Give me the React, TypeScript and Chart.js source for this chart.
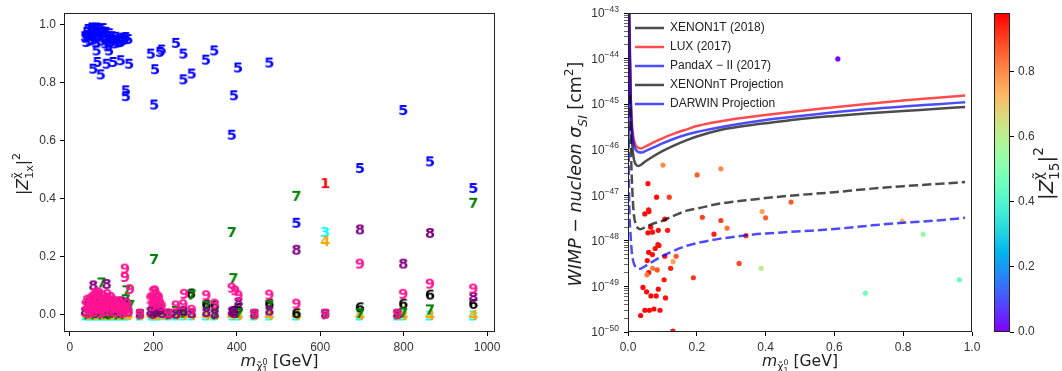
import React, { useEffect, useRef } from "react";
import { Chart, registerables } from "chart.js";
Chart.register(...registerables);

// ---------------- Left panel data: |Z_1x|^2 vs neutralino mass ----------------
const leftMassTicks = [0, 200, 400, 600, 800, 1000];
const leftZTicks = [0, 0.2, 0.4, 0.6, 0.8, 1.0];

const z1Points: [number, number][] = [[612, 0.453]];

const z3Points: [number, number][] = [
  [612, 0.284], [38, -0.004], [47, -0.004], [56, -0.004], [65, -0.004], [74, -0.004], [83, -0.004],
  [92, -0.004], [101, -0.004], [110, -0.004], [119, -0.004], [128, -0.004], [137, -0.004], [168, -0.004],
  [196, -0.004], [204, -0.004], [214, -0.004], [236, -0.004], [254, -0.004], [272, -0.004], [292, -0.004],
  [327, -0.004], [347, -0.004], [390, -0.004], [404, -0.004], [442, -0.004], [478, -0.004], [543, -0.004],
  [695, -0.004], [785, -0.004], [799, -0.004], [863, -0.004], [967, -0.004],
];

const z4Points: [number, number][] = [
  [612, 0.253], [40, -0.002], [49, -0.002], [58, -0.002], [67, -0.002], [76, -0.002], [85, -0.002],
  [94, -0.002], [103, -0.002], [112, -0.002], [121, -0.002], [130, -0.002], [140, -0.002], [168, -0.002],
  [194, -0.002], [201, -0.002], [210, -0.002], [220, -0.002], [236, -0.002], [254, -0.002], [272, -0.002],
  [292, -0.002], [327, -0.002], [347, -0.002], [388, -0.002], [404, -0.002], [442, -0.002], [478, -0.002],
  [543, -0.002], [695, -0.002], [785, -0.002], [799, -0.002], [863, -0.002], [967, -0.002],
];

const z5Points: [number, number][] = [
  [36, 0.96], [38, 0.955], [40, 0.94], [41, 0.975], [44, 0.985], [46, 0.962], [48, 0.945], [50, 0.978],
  [53, 0.99], [55, 0.962], [57, 0.948], [59, 0.985], [61, 0.97], [63, 0.938], [65, 0.99], [67, 0.958],
  [69, 0.975], [71, 0.962], [73, 0.985], [76, 0.945], [78, 0.972], [80, 0.988], [82, 0.955], [85, 0.935],
  [87, 0.975], [89, 0.96], [91, 0.925], [93, 0.945], [95, 0.97], [98, 0.94], [101, 0.96], [104, 0.948],
  [107, 0.935], [110, 0.958], [113, 0.945], [116, 0.938], [119, 0.952], [122, 0.94], [126, 0.955],
  [130, 0.948], [134, 0.957], [140, 0.95],
  [64, 0.911], [94, 0.911], [66, 0.871], [56, 0.848], [74, 0.828], [88, 0.865], [104, 0.871],
  [122, 0.877], [142, 0.865], [134, 0.773], [134, 0.753], [194, 0.9], [204, 0.846], [202, 0.724],
  [216, 0.906], [220, 0.914], [254, 0.937], [272, 0.9], [272, 0.811], [292, 0.831], [326, 0.879],
  [346, 0.911], [403, 0.852], [393, 0.756], [388, 0.62], [478, 0.869], [799, 0.705], [695, 0.505],
  [543, 0.316], [863, 0.528], [967, 0.436],
];

const z6Points: [number, number][] = [
  [290, 0.072], [863, 0.068], [799, 0.037], [967, 0.036], [695, 0.024], [404, 0.022], [327, 0.034],
  [478, 0.037], [347, 0.031], [392, 0.012], [543, 0.004], [272, 0.01], [215, 0.015], [204, 0.008],
  [60, 0.005], [90, 0.003], [120, 0.006],
];

const z7Points: [number, number][] = [
  [543, 0.409], [388, 0.284], [202, 0.191], [967, 0.385], [392, 0.125], [76, 0.11], [136, 0.083],
  [134, 0.052], [145, 0.033], [292, 0.068], [863, 0.017], [799, 0.006], [695, 0.004], [404, 0.005],
  [478, 0.031], [327, 0.03], [198, 0.01], [210, 0.02], [254, 0.012], [272, 0.005], [236, 0.0],
  [168, 0.0], [347, 0.0], [442, 0.0], [612, 0.0], [785, 0.0], [40, 0.0], [48, 0.004], [57, 0.0],
  [66, 0.006], [75, 0.0], [84, 0.003], [95, 0.0], [104, 0.005], [113, 0.0], [122, 0.004], [128, 0.0],
];

const z8Points: [number, number][] = [
  [543, 0.223], [695, 0.293], [863, 0.281], [799, 0.175], [56, 0.1], [88, 0.105], [967, 0.06],
  [168, 0.002], [193, 0.01], [198, 0.002], [204, 0.03], [210, 0.012], [215, 0.02], [220, 0.005],
  [236, 0.002], [254, 0.002], [272, 0.013], [292, 0.004], [327, 0.008], [347, 0.002], [388, 0.01],
  [393, 0.005], [404, 0.042], [442, 0.002], [478, 0.013], [612, 0.002], [785, 0.002],
  [36, 0.01], [42, 0.03], [47, 0.045], [52, 0.02], [58, 0.052], [63, 0.01], [67, 0.04], [72, 0.025],
  [79, 0.05], [84, 0.015], [89, 0.035], [94, 0.045], [100, 0.02], [106, 0.045], [111, 0.015],
  [117, 0.03], [123, 0.045], [129, 0.02], [134, 0.04], [140, 0.01],
];

const z9Points: [number, number][] = [
  [695, 0.175], [863, 0.106], [799, 0.071], [967, 0.089], [543, 0.037], [478, 0.068], [132, 0.158],
  [132, 0.129], [144, 0.087], [327, 0.066], [388, 0.092], [396, 0.083], [404, 0.066], [204, 0.083],
  [274, 0.071], [292, 0.016], [347, 0.037], [254, 0.031], [236, 0.004], [213, 0.06], [200, 0.05],
  [193, 0.054], [198, 0.028], [208, 0.035], [220, 0.03], [168, 0.002], [612, 0.002], [442, 0.002],
  [785, 0.002], [272, 0.035], [196, 0.06], [200, 0.08], [203, 0.045], [207, 0.07], [212, 0.055],
  [216, 0.04],
  [38, 0.035], [40, 0.012], [42, 0.05], [44, 0.02], [46, 0.004], [48, 0.03], [50, 0.055], [52, 0.015],
  [54, 0.04], [56, 0.062], [58, 0.008], [60, 0.025], [62, 0.07], [64, 0.077], [64, 0.045], [66, 0.018],
  [68, 0.058], [70, 0.075], [72, 0.032], [74, 0.005], [76, 0.05], [78, 0.022], [80, 0.065], [82, 0.038],
  [84, 0.012], [86, 0.055], [88, 0.028], [90, 0.07], [92, 0.045], [95, 0.01], [97, 0.035], [99, 0.06],
  [102, 0.02], [104, 0.048], [107, 0.03], [110, 0.008], [112, 0.04], [115, 0.022], [118, 0.045],
  [121, 0.012], [124, 0.03], [127, 0.005], [130, 0.025], [133, 0.015], [137, 0.038], [141, 0.01],
];

// ---------------- Right panel data: sigma_SI vs mass ----------------
const rightMassTicks = [0, 0.2, 0.4, 0.6, 0.8, 1.0];
const sigmaDecades = [1e-50, 1e-49, 1e-48, 1e-47, 1e-46, 1e-45, 1e-44, 1e-43];
const sigmaDecadeExponents = ["−50", "−49", "−48", "−47", "−46", "−45", "−44", "−43"];
const sigmaMinorSteps = [2, 3, 4, 5, 6, 7, 8, 9];

const xenon1t: [number, number][] = [
  [0.0035, 1.5e-43], [0.006, 1.0e-44], [0.008, 1.26e-45], [0.01, 3.16e-46], [0.013, 1.12e-46],
  [0.017, 6.3e-47], [0.022, 4.8e-47], [0.03, 4.4e-47], [0.04, 4.8e-47], [0.05, 5.5e-47], [0.074, 7.2e-47],
  [0.1, 9.3e-47], [0.13, 1.2e-46], [0.171, 1.62e-46], [0.2, 1.95e-46], [0.268, 2.7e-46], [0.3, 3.0e-46],
  [0.365, 3.55e-46], [0.4, 3.8e-46], [0.5, 4.7e-46], [0.6, 5.5e-46], [0.7, 6.3e-46], [0.8, 7.1e-46],
  [0.9, 7.9e-46], [0.98, 8.7e-46],
];
const lux2017: [number, number][] = [
  [0.003, 1.2e-43], [0.005, 1.6e-44], [0.007, 2.5e-45], [0.009, 7.9e-46], [0.012, 3.2e-46],
  [0.016, 1.8e-46], [0.022, 1.26e-46], [0.03, 1.1e-46], [0.039, 1.07e-46], [0.05, 1.17e-46],
  [0.074, 1.45e-46], [0.1, 1.78e-46], [0.13, 2.2e-46], [0.171, 2.8e-46], [0.2, 3.3e-46], [0.3, 4.6e-46],
  [0.4, 5.75e-46], [0.5, 7.1e-46], [0.6, 8.5e-46], [0.7, 1.02e-45], [0.8, 1.2e-45], [0.9, 1.38e-45],
  [0.98, 1.55e-45],
];
const pandax2017: [number, number][] = [
  [0.0025, 1.2e-43], [0.005, 1.26e-44], [0.007, 2.0e-45], [0.009, 6.3e-46], [0.012, 2.5e-46],
  [0.016, 1.4e-46], [0.022, 1.02e-46], [0.03, 8.9e-47], [0.041, 8.7e-47], [0.05, 9.3e-47],
  [0.074, 1.12e-46], [0.1, 1.38e-46], [0.13, 1.7e-46], [0.171, 2.15e-46], [0.2, 2.45e-46],
  [0.3, 3.45e-46], [0.4, 4.5e-46], [0.5, 5.5e-46], [0.6, 6.6e-46], [0.7, 7.8e-46], [0.8, 8.9e-46],
  [0.9, 1.0e-45], [0.98, 1.1e-45],
];
const xenonntProj: [number, number][] = [
  [0.005, 1.6e-45], [0.008, 1.26e-46], [0.011, 2.5e-47], [0.014, 7.9e-48], [0.017, 3.8e-48],
  [0.022, 2.35e-48], [0.029, 1.9e-48], [0.036, 1.8e-48], [0.05, 2.0e-48], [0.074, 2.4e-48],
  [0.1, 2.75e-48], [0.123, 3.3e-48], [0.171, 4.6e-48], [0.2, 5.1e-48], [0.268, 6.6e-48], [0.3, 7.1e-48],
  [0.365, 8.1e-48], [0.4, 8.7e-48], [0.5, 1.02e-47], [0.6, 1.17e-47], [0.7, 1.38e-47], [0.8, 1.58e-47],
  [0.9, 1.78e-47], [0.98, 1.95e-47],
];
const darwinProj: [number, number][] = [
  [0.0015, 2.5e-45], [0.0025, 3.2e-47], [0.004, 5.0e-48], [0.0067, 1.7e-48], [0.0116, 5.25e-49],
  [0.016, 3.4e-49], [0.021, 2.75e-49], [0.028, 2.5e-49], [0.036, 2.45e-49], [0.05, 2.8e-49],
  [0.074, 3.6e-49], [0.1, 4.6e-49], [0.123, 5.6e-49], [0.171, 7.8e-49], [0.2, 8.9e-49], [0.268, 1.12e-48],
  [0.3, 1.2e-48], [0.365, 1.38e-48], [0.4, 1.45e-48], [0.5, 1.62e-48], [0.6, 1.82e-48], [0.7, 2.15e-48],
  [0.8, 2.5e-48], [0.9, 2.8e-48], [0.98, 3.2e-48],
];

const scatterMass = [
  0.1015, 0.201, 0.27, 0.058, 0.083, 0.12, 0.049, 0.06, 0.061, 0.107, 0.216, 0.27, 0.288, 0.25, 0.343,
  0.066, 0.058, 0.071, 0.088, 0.115, 0.087, 0.09, 0.079, 0.06, 0.071, 0.107, 0.14, 0.056, 0.131, 0.124,
  0.0715, 0.085, 0.06, 0.055, 0.105, 0.19, 0.323, 0.088, 0.0435, 0.054, 0.0667, 0.082, 0.109, 0.0367,
  0.049, 0.062, 0.0754, 0.093, 0.1306, 0.39, 0.4, 0.474, 0.387, 0.69, 0.858, 0.963, 0.61, 0.797,
];
const scatterSigma = [
  4.6e-47, 2.8e-47, 3.8e-47, 1.8e-47, 9.1e-48, 9.1e-48, 3.9e-48, 4.8e-48, 4.4e-48, 3.0e-48, 3.3e-48,
  2.8e-48, 1.9e-48, 1.4e-48, 1.3e-48, 2.0e-48, 1.5e-48, 1.55e-48, 1.7e-48, 1.7e-48, 8.3e-49, 7.9e-49,
  6.8e-49, 5.6e-49, 5.0e-49, 4.6e-49, 4.6e-49, 3.7e-49, 3.5e-49, 2.5e-49, 2.5e-49, 2.3e-49, 2.0e-49,
  1.8e-49, 1.4e-49, 1.55e-49, 3.2e-49, 8.7e-50, 9.5e-50, 7.6e-50, 6.2e-50, 6.2e-50, 5.6e-50, 2.3e-50,
  3.0e-50, 3.0e-50, 3.2e-50, 3.0e-50, 1.05e-50, 4.4e-48, 3.2e-48, 7.1e-48, 2.5e-49, 7.1e-50, 1.4e-48,
  1.4e-49, 9.8e-45, 2.7e-48,
];
const scatterZ15 = [
  0.8, 0.86, 0.8, 0.96, 0.96, 0.9, 0.97, 0.96, 0.96, 0.95, 0.9, 0.9, 0.83, 0.94, 0.91, 0.96, 0.97, 0.96,
  0.96, 0.95, 0.96, 0.96, 0.96, 0.97, 0.96, 0.95, 0.87, 0.97, 0.76, 0.94, 0.82, 0.87, 0.96, 0.82, 0.95,
  0.91, 0.89, 0.96, 0.97, 0.97, 0.97, 0.96, 0.96, 0.97, 0.97, 0.97, 0.97, 0.96, 0.95, 0.76, 0.86, 0.87,
  0.62, 0.47, 0.53, 0.44, 0.003, 0.72,
];
const colorMin = 0;
const colorMax = 0.9785;
const colorTicks = [0, 0.2, 0.4, 0.6, 0.8];

// ---------------- helpers ----------------
const TICK_FAMILY = "'Liberation Sans', Arial, sans-serif";
const TICK_FONT = { family: TICK_FAMILY, size: 12 };
const TICK_COLOR = "#333";
const MATH_FAMILY = '"DejaVu Sans"';

function rainbow(t: number): string {
  const v = Math.min(1, Math.max(0, t));
  const r = Math.min(1, Math.abs(2 * v - 0.5));
  const g = Math.sin(Math.PI * v);
  const b = Math.cos((Math.PI * v) / 2);
  return `rgb(${Math.round(r * 255)},${Math.round(g * 255)},${Math.round(b * 255)})`;
}

function makeGlyph(d: string, color: string): HTMLCanvasElement {
  const c = document.createElement("canvas");
  c.width = 14;
  c.height = 16;
  const g = c.getContext("2d")!;
  g.font = 'bold 14.5px "DejaVu Sans"';
  g.fillStyle = color;
  g.textAlign = "center";
  g.textBaseline = "alphabetic";
  const m = g.measureText(d);
  g.fillText(d, 7, 8 + (m.actualBoundingBoxAscent - m.actualBoundingBoxDescent) / 2);
  return c;
}

type Run = { t: string; s?: number; dy?: number; it?: boolean; stack?: boolean };
function runFont(size: number, it?: boolean) {
  return `${it ? "italic " : ""}${size}px ${MATH_FAMILY}`;
}
function measureRuns(ctx: CanvasRenderingContext2D, runs: Run[], base: number) {
  let x = 0;
  let pending = 0;
  for (const r of runs) {
    ctx.font = runFont(base * (r.s ?? 1), r.it);
    const w = ctx.measureText(r.t).width;
    if (r.stack) {
      pending = w;
      continue;
    }
    x += Math.max(w, pending);
    pending = 0;
  }
  return x;
}
function drawRuns(
  ctx: CanvasRenderingContext2D, runs: Run[], cx: number, cy: number, length: number, rotate: boolean, color: string
) {
  ctx.save();
  const w20 = measureRuns(ctx, runs, 20);
  const base = (20 * length) / w20;
  const w = measureRuns(ctx, runs, base);
  ctx.translate(cx, cy);
  if (rotate) ctx.rotate(-Math.PI / 2);
  ctx.fillStyle = color;
  ctx.textBaseline = "alphabetic";
  ctx.textAlign = "left";
  let x = -w / 2;
  const by = 0.36 * base;
  let pending = 0;
  for (const r of runs) {
    ctx.font = runFont(base * (r.s ?? 1), r.it);
    ctx.fillText(r.t, x, by + (r.dy ?? 0) * base);
    const rw = ctx.measureText(r.t).width;
    if (r.stack) {
      pending = rw;
      continue;
    }
    x += Math.max(rw, pending);
    pending = 0;
  }
  ctx.restore();
}

const zLabelRuns = (sub: string): Run[] => [
  { t: "|" },
  { t: "Z", it: true },
  { t: "χ̃", s: 0.7, dy: -0.5, stack: true },
  { t: sub, s: 0.7, dy: 0.3 },
  { t: "|" },
  { t: "2", s: 0.7, dy: -0.5 },
];
const massLabelRuns: Run[] = [
  { t: "m", it: true },
  { t: "χ̃", s: 0.7, dy: 0.25 },
  { t: "0", s: 0.5, dy: -0.05, stack: true },
  { t: "1", s: 0.5, dy: 0.45 },
  { t: " [GeV]" },
];
const sigmaLabelRuns: Run[] = [
  { t: "WIMP", it: true },
  { t: " − " },
  { t: "nucleon", it: true },
  { t: " " },
  { t: "σ", it: true },
  { t: "SI", s: 0.7, dy: 0.3, it: true },
  { t: " [cm" },
  { t: "2", s: 0.7, dy: -0.5 },
  { t: "]" },
];

const framePlugin = {
  id: "frame",
  afterDraw(chart: any) {
    const { ctx, chartArea: a } = chart;
    ctx.save();
    ctx.strokeStyle = "#222";
    ctx.lineWidth = 1;
    ctx.strokeRect(a.left + 0.5, a.top + 0.5, a.right - a.left - 1, a.bottom - a.top - 1);
    ctx.restore();
  },
};

function fixedTicks(values: number[]) {
  return (scale: any) => {
    scale.ticks = values.map((v) => ({ value: v }));
  };
}

const axisGrid = { drawOnChartArea: false, drawTicks: true, tickLength: 4, tickColor: "#000", tickWidth: 1 };

export default function App() {
  const leftRef = useRef<HTMLCanvasElement>(null);
  const rightRef = useRef<HTMLCanvasElement>(null);
  const cbRef = useRef<HTMLCanvasElement>(null);

  useEffect(() => {
    const charts: Chart[] = [];

    // ---------- Left chart ----------
    const series = [
      { d: "1", color: "red", pts: z1Points, order: 9 },
      { d: "3", color: "cyan", pts: z3Points, order: 8 },
      { d: "4", color: "orange", pts: z4Points, order: 7 },
      { d: "5", color: "blue", pts: z5Points, order: 6 },
      { d: "6", color: "black", pts: z6Points, order: 5 },
      { d: "7", color: "green", pts: z7Points, order: 4 },
      { d: "8", color: "purple", pts: z8Points, order: 3 },
      { d: "9", color: "deeppink", pts: z9Points, order: 2 },
    ];
    const leftTitles = {
      id: "leftTitles",
      afterDraw(chart: any) {
        const ctx = chart.ctx;
        const a = chart.chartArea;
        drawRuns(ctx, zLabelRuns("1x"), 22.5, 174, 42, true, "#222");
        drawRuns(ctx, massLabelRuns, (a.left + a.right) / 2, 360.5, 78, false, "#222");
      },
    };
    charts.push(
      new Chart(leftRef.current!, {
        type: "scatter",
        data: {
          datasets: series.map((s) => ({
            label: s.d,
            data: s.pts.map(([x, y]) => ({ x, y })),
            pointStyle: makeGlyph(s.d, s.color),
            pointRadius: 6,
            pointHoverRadius: 6,
            order: s.order,
          })),
        },
        options: {
          animation: false,
          responsive: false,
          devicePixelRatio: 1,
          events: [],
          layout: { padding: { left: 0, right: 540 - 495, top: 13, bottom: 0 } },
          plugins: { legend: { display: false }, tooltip: { enabled: false } },
          scales: {
            x: {
              type: "linear",
              min: -14,
              max: 1019,
              afterBuildTicks: fixedTicks(leftMassTicks),
              afterFit: (s: any) => {
                s.height = 371 - 332;
              },
              grid: axisGrid,
              border: { display: false },
              ticks: { font: TICK_FONT, color: TICK_COLOR, padding: 4, autoSkip: false, maxRotation: 0, callback: (v: any) => String(v) },
            },
            y: {
              type: "linear",
              min: -0.061,
              max: 1.04,
              afterBuildTicks: fixedTicks(leftZTicks),
              afterFit: (s: any) => {
                s.width = 64;
              },
              grid: axisGrid,
              border: { display: false },
              ticks: { font: TICK_FONT, color: TICK_COLOR, padding: 4, autoSkip: false, callback: (v: any) => Number(v).toFixed(1) },
            },
          },
        } as any,
        plugins: [framePlugin, leftTitles],
      })
    );

    // ---------- Right chart ----------
    const logTicks: { value: number; major: boolean }[] = [];
    sigmaDecades.forEach((d, i) => {
      logTicks.push({ value: d, major: true });
      if (i < sigmaDecades.length - 1) sigmaMinorSteps.forEach((m) => logTicks.push({ value: d * m, major: false }));
    });
    const rightTitles = {
      id: "rightTitles",
      afterDraw(chart: any) {
        const ctx = chart.ctx;
        const a = chart.chartArea;
        drawRuns(ctx, sigmaLabelRuns, 35, 174, 225, true, "#222");
        drawRuns(ctx, massLabelRuns, (a.left + a.right) / 2, 360.5, 76, false, "#222");
        // power-of-ten tick labels with superscript exponents
        const ys = chart.scales.y;
        const right = a.left - 4 - 5;
        ctx.save();
        ctx.fillStyle = TICK_COLOR;
        ctx.textAlign = "left";
        ctx.textBaseline = "alphabetic";
        sigmaDecades.forEach((d, i) => {
          const y = ys.getPixelForValue(d);
          ctx.font = `8.5px ${TICK_FAMILY}`;
          const we = ctx.measureText(sigmaDecadeExponents[i]).width;
          ctx.font = `12px ${TICK_FAMILY}`;
          const wb = ctx.measureText("10").width;
          ctx.fillText("10", right - we - wb, y + 4.3);
          ctx.font = `8.5px ${TICK_FAMILY}`;
          ctx.fillText(sigmaDecadeExponents[i], right - we, y - 1.5);
        });
        ctx.restore();
      },
    };
    const curve = (label: string, pts: [number, number][], color: string, dash: number[], order: number) => ({
      label,
      data: pts.map(([x, y]) => ({ x, y })),
      showLine: true,
      borderColor: color,
      backgroundColor: color,
      borderWidth: 2.5,
      borderDash: dash,
      pointRadius: 0,
      pointHoverRadius: 0,
      cubicInterpolationMode: "monotone",
      fill: false,
      order,
    });
    charts.push(
      new Chart(rightRef.current!, {
        type: "scatter",
        data: {
          datasets: [
            curve("XENON1T (2018)", xenon1t, "rgba(0,0,0,0.7)", [], 4),
            curve("LUX (2017)", lux2017, "rgba(255,0,0,0.7)", [], 3),
            curve("PandaX − II (2017)", pandax2017, "rgba(0,0,255,0.7)", [], 2),
            curve("XENONnT Projection", xenonntProj, "rgba(0,0,0,0.7)", [9.25, 4], 1),
            curve("DARWIN Projection", darwinProj, "rgba(0,0,255,0.7)", [9.25, 4], 0),
            {
              label: "models",
              data: scatterMass.map((x, i) => ({ x, y: scatterSigma[i] })),
              backgroundColor: scatterZ15.map((z) => rainbow((z - colorMin) / (colorMax - colorMin))),
              borderWidth: 0,
              pointRadius: 2.6,
              pointHoverRadius: 2.6,
              order: 5,
            },
          ],
        },
        options: {
          animation: false,
          responsive: false,
          devicePixelRatio: 1,
          events: [],
          layout: { padding: { left: 0, right: 445 - 432, top: 13, bottom: 0 } },
          plugins: {
            tooltip: { enabled: false },
            legend: {
              position: "chartArea",
              align: "start",
              title: { display: true, text: " ", font: { size: 10 }, padding: { top: 3, bottom: 0, left: 0, right: 0 } },
              labels: {
                usePointStyle: true,
                pointStyle: "line",
                pointStyleWidth: 29,
                padding: 7,
                color: "#222",
                font: TICK_FONT,
                filter: (item: any) => item.datasetIndex < 5,
                sort: (a: any, b: any) => a.datasetIndex - b.datasetIndex,
              },
            },
          },
          scales: {
            x: {
              type: "linear",
              min: 0,
              max: 1,
              afterBuildTicks: fixedTicks(rightMassTicks),
              afterFit: (s: any) => {
                s.height = 371 - 332;
              },
              grid: axisGrid,
              border: { display: false },
              ticks: { font: TICK_FONT, color: TICK_COLOR, padding: 4, autoSkip: false, maxRotation: 0, callback: (v: any) => Number(v).toFixed(1) },
            },
            y: {
              type: "logarithmic",
              min: 1e-50,
              max: 1e-43,
              afterBuildTicks: (scale: any) => {
                scale.ticks = logTicks.map((t) => ({ ...t }));
              },
              afterFit: (s: any) => {
                s.width = 88;
              },
              grid: {
                drawOnChartArea: false,
                drawTicks: true,
                tickLength: 4,
                tickColor: "#000",
                tickWidth: (c: any) => (c.tick && c.tick.major ? 1 : 0.6),
              },
              border: { display: false },
              ticks: { display: false, autoSkip: false },
            },
          },
        } as any,
        plugins: [framePlugin, rightTitles],
      })
    );

    // ---------- Colorbar ----------
    const cbTitle = {
      id: "cbTitle",
      afterDraw(chart: any) {
        drawRuns(chart.ctx, zLabelRuns("15"), 61, 173.5, 53, true, "#222");
      },
    };
    charts.push(
      new Chart(cbRef.current!, {
        type: "bar",
        data: {
          labels: [""],
          datasets: [
            {
              data: [[colorMin, colorMax]] as any,
              backgroundColor: (c: any) => {
                const a = c.chart.chartArea;
                if (!a) return "red";
                const g = c.chart.ctx.createLinearGradient(0, a.bottom, 0, a.top);
                for (let i = 0; i <= 40; i++) g.addColorStop(i / 40, rainbow(i / 40));
                return g;
              },
              borderWidth: 0,
              barPercentage: 1,
              categoryPercentage: 1,
            },
          ],
        },
        options: {
          animation: false,
          responsive: false,
          devicePixelRatio: 1,
          events: [],
          layout: { padding: { left: 9, right: 0, top: 13, bottom: 371 - 332 } },
          plugins: { legend: { display: false }, tooltip: { enabled: false } },
          scales: {
            x: { display: false },
            y: {
              position: "right",
              min: colorMin,
              max: colorMax,
              afterBuildTicks: fixedTicks(colorTicks),
              afterFit: (s: any) => {
                s.width = 77 - 25;
              },
              grid: axisGrid,
              border: { display: false },
              ticks: { font: TICK_FONT, color: TICK_COLOR, padding: 4, autoSkip: false, callback: (v: any) => Number(v).toFixed(1) },
            },
          },
        } as any,
        plugins: [framePlugin, cbTitle],
      })
    );

    return () => charts.forEach((c) => c.destroy());
  }, []);

  return (
    <div style={{ position: "absolute", left: 0, top: 0, width: 1062, height: 371, overflow: "hidden", background: "#fff" }}>
      <canvas ref={leftRef} width={540} height={371} style={{ position: "absolute", left: 0, top: 0, width: 540, height: 371 }} />
      <canvas ref={rightRef} width={445} height={371} style={{ position: "absolute", left: 540, top: 0, width: 445, height: 371 }} />
      <canvas ref={cbRef} width={77} height={371} style={{ position: "absolute", left: 985, top: 0, width: 77, height: 371 }} />
    </div>
  );
}
